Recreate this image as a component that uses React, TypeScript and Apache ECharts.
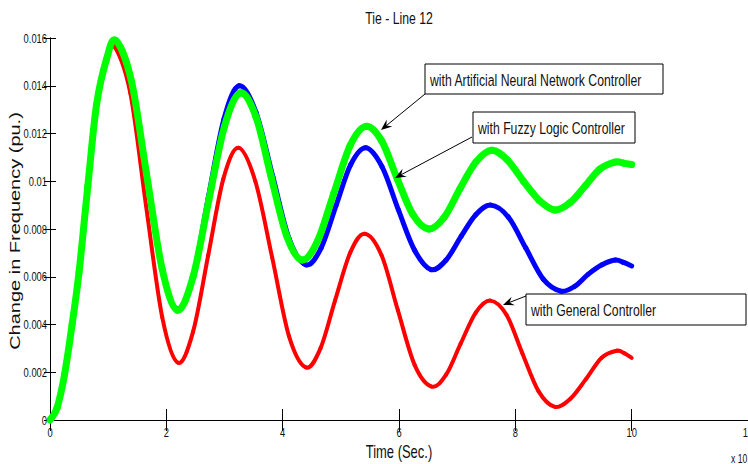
import React, { useEffect, useRef } from "react";
import * as echarts from "echarts";

const xTicks = [0, 2, 4, 6, 8, 10, 12];
const yTicks = [0, 0.002, 0.004, 0.006, 0.008, 0.01, 0.012, 0.014, 0.016];
const yTickLabels = ["0", "0.002", "0.004", "0.006", "0.008", "0.01", "0.012", "0.014", "0.016"];

// With Artificial Neural Network Controller (green)
const ANN_T = [0, 0.12, 0.25, 0.38, 0.5, 0.65, 0.8, 0.97, 1.13, 1.4, 1.66, 1.93, 2.19, 2.46, 2.73, 3.0, 3.27, 3.54, 3.8, 4.07, 4.33, 4.6, 4.88, 5.16, 5.43, 5.7, 5.97, 6.24, 6.51, 6.78, 7.05, 7.32, 7.59, 7.86, 8.14, 8.41, 8.68, 8.94, 9.2, 9.45, 9.71, 9.86, 10.0];
const ANN_V = [0, 0.0005, 0.0019, 0.004, 0.0062, 0.0098, 0.0132, 0.0151, 0.0159, 0.0142, 0.0103, 0.0063, 0.0046, 0.006, 0.0092, 0.0123, 0.0137, 0.0127, 0.0102, 0.0077, 0.0067, 0.0075, 0.0095, 0.0115, 0.0123, 0.0117, 0.0101, 0.0086, 0.008, 0.0085, 0.0097, 0.0108, 0.0113, 0.0109, 0.01, 0.0092, 0.0088, 0.0091, 0.0098, 0.0105, 0.0108, 0.01076, 0.0107];

// With Fuzzy Logic Controller (blue)
const FUZZY_T = [0, 0.12, 0.25, 0.38, 0.5, 0.65, 0.8, 0.97, 1.13, 1.4, 1.66, 1.93, 2.19, 2.46, 2.72, 2.99, 3.25, 3.54, 3.83, 4.11, 4.4, 4.66, 4.92, 5.17, 5.43, 5.71, 5.99, 6.27, 6.55, 6.81, 7.07, 7.32, 7.58, 7.88, 8.18, 8.48, 8.78, 9.02, 9.25, 9.49, 9.72, 9.86, 10.0];
const FUZZY_V = [0, 0.0005, 0.0019, 0.004, 0.0062, 0.0098, 0.0132, 0.0151, 0.0159, 0.0142, 0.0103, 0.0063, 0.00465, 0.006, 0.0093, 0.0126, 0.014, 0.0129, 0.0102, 0.0076, 0.0065, 0.0072, 0.009, 0.0107, 0.0114, 0.0106, 0.0088, 0.0071, 0.0063, 0.0067, 0.0077, 0.0086, 0.009, 0.0085, 0.0072, 0.0059, 0.0054, 0.0056, 0.0061, 0.0065, 0.0067, 0.0066, 0.00645];

// With General Controller (red)
const GEN_T = [0, 0.12, 0.25, 0.38, 0.5, 0.65, 0.8, 0.96, 1.1, 1.38, 1.65, 1.93, 2.2, 2.46, 2.72, 2.98, 3.24, 3.53, 3.82, 4.11, 4.4, 4.65, 4.9, 5.16, 5.41, 5.7, 5.98, 6.27, 6.56, 6.81, 7.06, 7.32, 7.57, 7.85, 8.12, 8.4, 8.68, 8.95, 9.21, 9.48, 9.74, 9.87, 10.0];
const GEN_V = [0, 0.0005, 0.0019, 0.004, 0.0062, 0.0097, 0.013, 0.0149, 0.01566, 0.0137, 0.009, 0.0043, 0.0024, 0.0037, 0.0069, 0.0101, 0.0114, 0.01, 0.0068, 0.0035, 0.0022, 0.003, 0.005, 0.007, 0.0078, 0.0069, 0.0046, 0.0023, 0.0014, 0.0019, 0.0032, 0.0045, 0.005, 0.0044, 0.0028, 0.0012, 0.00055, 0.0009, 0.0017, 0.0026, 0.0029, 0.0028, 0.0026];

const seriesNames = [
  "with General Controller",
  "with Fuzzy Logic Controller",
  "with Artificial Neural Network Controller",
];
const seriesColors = ["#ff0000", "#0000ff", "#00ff00"];
const seriesWidths = [4, 5, 7];

const SANS = '"Liberation Sans", Arial, sans-serif';
const SQ = 0.72; // horizontal squeeze of the original figure

function arrow(x1: number, y1: number, x2: number, y2: number) {
  const dx = x2 - x1;
  const dy = y2 - y1;
  const len = Math.sqrt(dx * dx + dy * dy);
  const ux = dx / len;
  const uy = dy / len;
  const px = -uy;
  const py = ux;
  const L = 11;
  const W = 4.5;
  const N = 7;
  const bx = x2 - ux * L;
  const by = y2 - uy * L;
  const nx = x2 - ux * N;
  const ny = y2 - uy * N;
  return [
    {
      type: "line",
      shape: { x1, y1, x2: nx, y2: ny },
      style: { stroke: "#000", lineWidth: 1 },
      z: 100,
    },
    {
      type: "polygon",
      shape: {
        points: [
          [x2, y2],
          [bx + px * W, by + py * W],
          [nx, ny],
          [bx - px * W, by - py * W],
        ],
      },
      style: { fill: "#000" },
      z: 100,
    },
  ];
}

function txt(x: number, y: number, text: string, size: number, align: string, extra: any = {}) {
  return {
    type: "text",
    x,
    y,
    scaleX: SQ,
    style: {
      text,
      fill: "#111",
      font: `${size}px ${SANS}`,
      align,
      verticalAlign: "middle",
    },
    z: 101,
    ...extra,
  };
}

function box(x: number, y: number, w: number, h: number, text: string) {
  return [
    {
      type: "rect",
      shape: { x, y, width: w, height: h },
      style: { fill: "#fff", stroke: "#000", lineWidth: 1 },
      z: 100,
    },
    txt(x + 5, y + h / 2 + 1, text, 17, "left"),
  ];
}

// Smooth curve series: each data point draws the Catmull-Rom segment to the next point,
// positioned through the cartesian axes (api.coord).
function curveSeries(T: number[], V: number[], idx: number) {
  const n = T.length;
  return {
    name: seriesNames[idx],
    type: "custom",
    coordinateSystem: "cartesian2d",
    xAxisIndex: 0,
    yAxisIndex: 0,
    data: T.map((t, i) => [t, V[i]]),
    encode: { x: 0, y: 1 },
    z: 2 + idx,
    clip: false,
    renderItem: (params: any, api: any) => {
      const i = params.dataIndex;
      if (i >= n - 1) return { type: "group", children: [] };
      const p = (k: number) => {
        const kk = Math.max(0, Math.min(n - 1, k));
        return api.coord([T[kk], V[kk]]);
      };
      const p0 = p(i - 1);
      const p1 = p(i);
      const p2 = p(i + 1);
      const p3 = p(i + 2);
      return {
        type: "bezierCurve",
        shape: {
          x1: p1[0],
          y1: p1[1],
          x2: p2[0],
          y2: p2[1],
          cpx1: p1[0] + (p2[0] - p0[0]) / 6,
          cpy1: p1[1] + (p2[1] - p0[1]) / 6,
          cpx2: p2[0] - (p3[0] - p1[0]) / 6,
          cpy2: p2[1] - (p3[1] - p1[1]) / 6,
        },
        style: {
          stroke: seriesColors[idx],
          lineWidth: seriesWidths[idx],
          fill: "none",
          lineCap: "round",
          lineJoin: "round",
        },
      };
    },
  };
}

export default function App() {
  const ref = useRef<HTMLDivElement>(null);
  useEffect(() => {
    if (!ref.current) return;
    const chart = echarts.init(ref.current, undefined, { renderer: "svg" });
    const axisCommonX = {
      type: "value",
      min: 0,
      max: 12,
      interval: 2,
      axisLine: { show: true, lineStyle: { color: "#000", width: 1 } },
      axisTick: { show: true, inside: true, length: 11, lineStyle: { color: "#000" } },
      axisLabel: { show: false },
      splitLine: { show: false },
    };
    const axisCommonY = {
      type: "value",
      min: 0,
      max: 0.016,
      interval: 0.002,
      axisLine: { show: true, lineStyle: { color: "#000", width: 1 } },
      axisTick: { show: true, inside: true, length: 6, lineStyle: { color: "#000" } },
      axisLabel: { show: false },
      splitLine: { show: false },
    };
    chart.setOption({
      animation: false,
      backgroundColor: "#fff",
      grid: { left: 50, top: 38, width: 701, height: 382, containLabel: false },
      xAxis: [
        { ...axisCommonX, position: "bottom" },
        { ...axisCommonX, position: "top" },
      ],
      yAxis: [
        { ...axisCommonY, position: "left" },
        { ...axisCommonY, position: "right" },
      ],
      series: [
        curveSeries(GEN_T, GEN_V, 0),
        curveSeries(FUZZY_T, FUZZY_V, 1),
        curveSeries(ANN_T, ANN_V, 2),
      ],
    });

    const x0 = chart.convertToPixel({ xAxisIndex: 0 }, 0) as number;
    const y0 = chart.convertToPixel({ yAxisIndex: 0 }, 0) as number;
    const tickTexts: any[] = [];
    xTicks.forEach((v) => {
      const px = chart.convertToPixel({ xAxisIndex: 0 }, v) as number;
      tickTexts.push(txt(px, y0 + 12, String(v), 13, "center"));
    });
    yTicks.forEach((v, i) => {
      const py = chart.convertToPixel({ yAxisIndex: 0 }, v) as number;
      tickTexts.push(txt(x0 - 3, py, yTickLabels[i], 13, "right"));
    });

    chart.setOption({
      graphic: [
        ...tickTexts,
        txt(399, 18, "Tie - Line 12", 17, "center"),
        txt(399, 452, "Time (Sec.)", 18, "center"),
        txt(731, 459, "x 10", 12, "left"),
        {
          type: "text",
          x: 15,
          y: 231,
          rotation: Math.PI / 2,
          scaleY: SQ,
          style: {
            text: "Change in Frequency (pu.)",
            fill: "#111",
            font: `20px ${SANS}`,
            align: "center",
            verticalAlign: "middle",
          },
        },
        ...box(425, 64, 238, 30, seriesNames[2]),
        ...arrow(425, 94, 381, 130),
        ...box(473, 112, 162, 31, seriesNames[1]),
        ...arrow(472, 137, 395, 178),
        ...box(526, 294, 220, 31, seriesNames[0]),
        ...arrow(526, 296, 503, 305),
      ],
    });
    return () => chart.dispose();
  }, []);
  return (
    <div
      ref={ref}
      style={{ position: "fixed", left: 0, top: 0, width: 748, height: 464, background: "#fff" }}
    />
  );
}
